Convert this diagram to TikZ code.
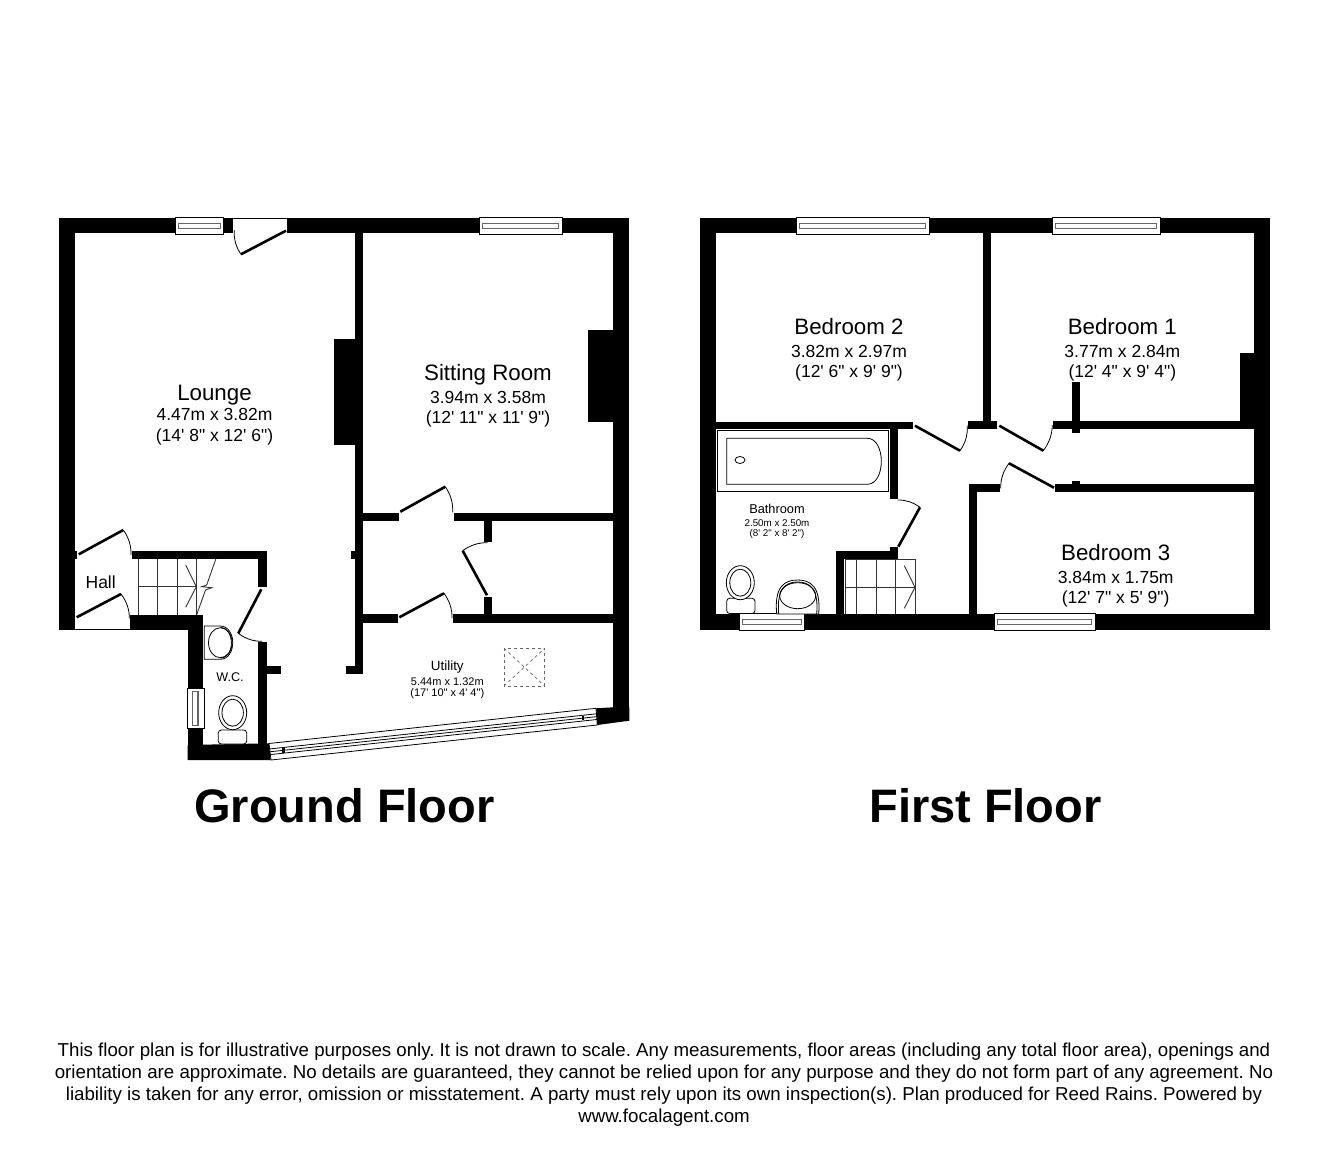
\documentclass[tikz,border=0pt]{standalone}
\usepackage{fontspec}
\usepackage{tikz}
\usetikzlibrary{calc}
\newfontfamily\planfont{Liberation Sans}
\tikzset{
    wall/.style={fill=black},
    glass/.style={draw=black, fill=white, line width=0.8pt},
    pane/.style={draw=black!60, line width=1.1pt},
    leaf/.style={draw=black, line width=2.6pt},
    swing/.style={draw=black, line width=0.8pt},
    fitting/.style={draw=black, line width=0.8pt, fill=white},
    tread/.style={draw=black!80, line width=0.9pt},
    roomname/.style={anchor=base, inner sep=0pt, font=\planfont\fontsize{22.3}{26}\selectfont},
    roomsize/.style={anchor=base, inner sep=0pt, font=\planfont\fontsize{17.5}{21}\selectfont},
    smallname/.style={anchor=base, inner sep=0pt, font=\planfont\fontsize{13.4}{16}\selectfont},
    smallsize/.style={anchor=base, inner sep=0pt, font=\planfont\fontsize{11}{13}\selectfont},
    floorname/.style={anchor=base, inner sep=0pt, font=\planfont\bfseries\fontsize{47}{52}\selectfont}
}
\begin{document}
\begin{tikzpicture}[x=1pt, y=-1pt]
    \useasboundingbox (0,0) rectangle (1328,1151);

    \fill[wall] (58.7,217.7) rectangle (232.7,233.3);
    \fill[wall] (287.3,217.7) rectangle (629.3,233.3);
    \fill[wall] (58.7,217.7) rectangle (75,629.7);
    \fill[wall] (75,551) rectangle (77,559);
    \fill[wall] (355,233) rectangle (363.3,673.7);
    \fill[wall] (334,339.3) rectangle (355,445.3);
    \fill[wall] (350.7,551) rectangle (355,559);
    \fill[wall] (346,665.7) rectangle (355,673.7);
    \fill[wall] (132,551) rectangle (266.7,559.3);
    \fill[wall] (258.3,551) rectangle (266.7,587.3);
    \fill[wall] (258.3,642.3) rectangle (266.7,746);
    \fill[wall] (266.7,665.7) rectangle (280.7,673.7);
    \fill[wall] (130,614.7) rectangle (203.3,629.7);
    \fill[wall] (187.7,614.7) rectangle (203.3,760);
    \fill[wall] (187.7,745) -- (269,743.3) -- (270.7,760) -- (187.7,760) -- cycle;
    \fill[wall] (363,513.3) rectangle (399.3,521.3);
    \fill[wall] (454,513.3) rectangle (613.5,521.3);
    \fill[wall] (363,614.3) rectangle (398,622.7);
    \fill[wall] (453.3,614.3) rectangle (613.5,622.7);
    \fill[wall] (483.7,521) rectangle (492,542.3);
    \fill[wall] (483.7,596.7) rectangle (492,614.5);
    \fill[wall] (588.3,329.7) rectangle (613.5,422.3);
    \fill[wall] (613.3,217.7) rectangle (629.3,720.7);
    \fill[wall] (596,708.3) -- (613.5,707.3) -- (629.3,707.3) -- (629.3,720.7) -- (597.3,725) -- cycle;

    \fill[wall] (699.5,217.7) rectangle (1270,233.3);
    \fill[wall] (699.5,217.7) rectangle (715.5,630);
    \fill[wall] (699.5,614) rectangle (1270,630);
    \fill[wall] (1254.3,217.7) rectangle (1270,630);
    \fill[wall] (983,233) rectangle (991,421.5);
    \fill[wall] (968,421) rectangle (997.3,429.3);
    \fill[wall] (715,421.5) rectangle (913.3,429.3);
    \fill[wall] (890,429) rectangle (898.3,499.3);
    \fill[wall] (890,547.3) rectangle (898.3,559);
    \fill[wall] (836.3,551.3) rectangle (898.3,559);
    \fill[wall] (836.3,551.3) rectangle (844.3,614.5);
    \fill[wall] (968.7,484.3) rectangle (976.7,614.5);
    \fill[wall] (968.7,484.3) rectangle (1000,492.3);
    \fill[wall] (1055,484.3) rectangle (1254.5,492.3);
    \fill[wall] (1072.3,481) rectangle (1080,484.5);
    \fill[wall] (1052.7,421) rectangle (1254.5,429.3);
    \fill[wall] (1072.3,381.7) rectangle (1080,432.7);
    \fill[wall] (1240,352.7) rectangle (1254.5,421.3);

    \draw[swing] (232.7,218) -- (287.3,218);
    \draw[swing] (75,629.7) -- (130,629.7);

    \foreach \xa/\xb in {175/223.7, 479/562.3, 796/929, 1052/1160} {
        \draw[glass] (\xa,217.7) rectangle (\xb,234.3);
        \draw[pane] (\xa+3.5,223.5) rectangle (\xb-3.5,228.3);
    }
    \foreach \xa/\xb in {739/804.7, 994.3/1095.3} {
        \draw[glass] (\xa,613.7) rectangle (\xb,630.5);
        \draw[pane] (\xa+3.5,619.5) rectangle (\xb-3.5,624.5);
    }
    \draw[glass] (187.7,688) rectangle (204.7,728.7);
    \draw[pane] (192.7,691.5) rectangle (198,725.2);

    \coordinate (glassa) at (269,743.5);
    \coordinate (glassb) at (596,708.3);
    \coordinate (glassc) at (597.3,725);
    \coordinate (glassd) at (271,760);
    \draw[glass] (glassa) -- (glassb) -- (glassc) -- (glassd) -- cycle;
    \foreach \t in {0.33, 0.5, 0.67} {
        \draw[swing] ($(glassa)!\t!(glassd)$) -- ($(glassb)!\t!(glassc)$);
    }
    \fill[wall] (282.3,748) rectangle (284.6,752.5);
    \fill[wall] (581.6,715.5) rectangle (583.9,720);

    \foreach \hx/\hy/\tx/\ty/\jx/\jy in {
        286/230.7/241/254.3/234.3/230,
        78.7/554.3/123.3/530/131/555,
        76.7/617.3/121/594/129.3/618.3,
        261.3/589.3/238.3/633.3/262.3/641.3,
        400.3/511.7/445.3/486.7/452.7/512.3,
        399.3/617.3/444/593.3/452/618.3,
        487/595.3/462.7/550.7/487.7/542.7,
        915/425.7/960/450.7/967.3/425.7,
        999.3/425.7/1043.3/450.7/1052.3/425,
        1054/487.7/1009/463.3/1000.7/488.3,
        898.3/546.7/920/507.3/897.7/500} {
        \coordinate (hinge) at (\hx,\hy);
        \coordinate (tip) at (\tx,\ty);
        \coordinate (jamb) at (\jx,\jy);
        \coordinate (chord) at ($(tip)!0.5!(jamb)$);
        \coordinate (apex) at ($(hinge)!1.09!(chord)$);
        \draw[leaf] (hinge) -- (tip);
        \draw[swing] (tip) .. controls ($(tip)!0.667!(apex)$) and ($(jamb)!0.667!(apex)$) .. (jamb);
    }

    \foreach \x in {138.3, 157.7, 177, 196.3} {
        \draw[tread] (\x,559.3) -- (\x,614.7);
    }
    \draw[tread] (138.3,586.7) -- (196.3,586.7);
    \draw[tread] (185.7,565) -- (196.3,586.7) -- (185.7,607.3);
    \draw[tread] (215.7,559.3) -- (206.7,585) -- (201.7,586.7) -- (211.7,587.7) -- (205.5,590) -- (196.7,614.7);

    \foreach \x in {845.7, 856.7, 876.3, 895.7, 915} {
        \draw[tread] (\x,559) -- (\x,614);
    }
    \draw[tread] (845.7,559) -- (915,559);
    \draw[tread] (845.7,587.3) -- (915,587.3);
    \draw[tread] (904.3,565.7) -- (915,587.3) -- (904.3,608.3);

    \draw[fitting] (204.3,626) -- (220,626) .. controls (237,626) and (237,659.3) .. (220,659.3) -- (204.3,659.3) -- cycle;
    \draw[swing] (220.5,627.5) .. controls (235,628) and (235,658) .. (220.5,658);
    \draw[swing] (220.3,642.7) ellipse (11.8 and 15);
    \draw[fitting, rounded corners=3pt] (218.3,730) rectangle (246.7,744);
    \draw[fitting] (232.7,712.7) ellipse (14 and 17);
    \draw[swing] (232.7,712.7) ellipse (10.7 and 13.5);

    \draw[fitting] (717.3,430.7) rectangle (888.3,491.7);
    \draw[fitting] (726.7,438.3) -- (867.3,438.3) .. controls (886,438.3) and (886,484.3) .. (867.3,484.3) -- (726.7,484.3) -- cycle;
    \draw[swing] (740,460) ellipse (5 and 3.5);
    \draw[fitting, rounded corners=3pt] (726.7,598.3) rectangle (755,613.5);
    \draw[fitting] (740.3,582.7) ellipse (14 and 17);
    \draw[swing] (740.3,582.7) ellipse (10.5 and 13.5);
    \draw[fitting] (776.7,614) .. controls (774,586) and (785,580) .. (797.7,580) .. controls (810,580) and (821,586) .. (818.7,614) -- cycle;
    \draw[swing] (778.7,614) .. controls (776.5,588) and (786,582) .. (797.7,582) .. controls (809,582) and (819,588) .. (816.7,614);
    \draw[swing] (797.7,595.7) ellipse (18 and 13);

    \draw[draw=black!60, dashed, line width=0.7pt] (504,648.3) rectangle (544.7,686);
    \draw[draw=black!60, dashed, line width=0.7pt] (504,648.3) -- (544.7,686);
    \draw[draw=black!60, dashed, line width=0.7pt] (504,686) -- (544.7,648.3);

    \node (lounge) [roomname] at (214.5,400) {Lounge};
    \node (loungesize) [roomsize] at (214.5,420.7) {4.47m x 3.82m};
    \node (loungefeet) [roomsize] at (214.5,441) {(14' 8" x 12' 6")};
    \node (sitting) [roomname] at (488,380.7) {Sitting Room};
    \node (sittingsize) [roomsize] at (488,403.5) {3.94m x 3.58m};
    \node (sittingfeet) [roomsize] at (488,423.3) {(12' 11" x 11' 9")};
    \node (hall) [roomsize] at (100.7,588.3) {Hall};
    \node (wc) [smallname, font=\planfont\fontsize{12.6}{15}\selectfont] at (230,681) {W.C.};
    \node (utility) [smallname] at (447.3,670.7) {Utility};
    \node (utilitysize) [smallsize] at (447.3,685) {5.44m x 1.32m};
    \node (utilityfeet) [smallsize] at (447.3,696.7) {(17' 10" x 4' 4")};
    \node (bedtwo) [roomname] at (849,334) {Bedroom 2};
    \node (bedtwosize) [roomsize] at (849,357.3) {3.82m x 2.97m};
    \node (bedtwofeet) [roomsize] at (849,377.3) {(12' 6" x 9' 9")};
    \node (bedone) [roomname] at (1122.3,334) {Bedroom 1};
    \node (bedonesize) [roomsize] at (1122.3,357.3) {3.77m x 2.84m};
    \node (bedonefeet) [roomsize] at (1122.3,377.3) {(12' 4" x 9' 4")};
    \node (bedthree) [roomname] at (1115.7,560) {Bedroom 3};
    \node (bedthreesize) [roomsize] at (1115.7,583.3) {3.84m x 1.75m};
    \node (bedthreefeet) [roomsize] at (1115.7,603.3) {(12' 7" x 5' 9")};
    \node (bathroom) [smallname, font=\planfont\fontsize{12.8}{15}\selectfont] at (777,513.3) {Bathroom};
    \node (bathroomsize) [smallsize, font=\planfont\fontsize{9.8}{12}\selectfont] at (777,526) {2.50m x 2.50m};
    \node (bathroomfeet) [smallsize, font=\planfont\fontsize{9.8}{12}\selectfont] at (777,536.7) {(8' 2" x 8' 2")};
    \node (ground) [floorname] at (344.5,822) {Ground Floor};
    \node (first) [floorname] at (985.5,822) {First Floor};
    \node (notice) [anchor=base, inner sep=0pt, align=center, font=\planfont\frenchspacing\fontsize{18.7}{21.7}\selectfont] at (664,1122) {This floor plan is for illustrative purposes only. It is not drawn to scale. Any measurements, floor areas (including any total floor area), openings and\\orientation are approximate. No details are guaranteed, they cannot be relied upon for any purpose and they do not form part of any agreement. No\\liability is taken for any error, omission or misstatement. A party must rely upon its own inspection(s). Plan produced for Reed Rains. Powered by\\www.focalagent.com};
\end{tikzpicture}
\end{document}
